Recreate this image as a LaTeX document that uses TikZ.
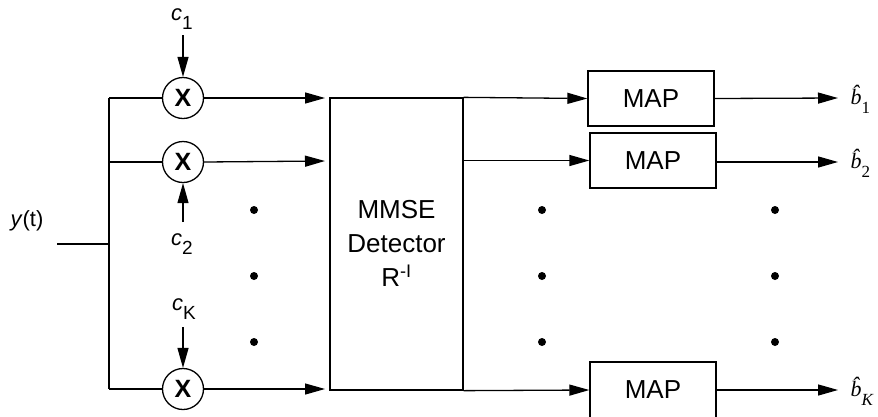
\documentclass[tikz,border=0pt]{standalone}
\usepackage{fontspec}
\setmainfont{Liberation Sans}
\newfontfamily\serfont{Liberation Serif}
\usetikzlibrary{arrows.meta}
\newcommand\labsub[2]{\textit{#1}\raisebox{-0.42em}{\fontsize{19}{19}\selectfont #2}}
\newcommand\bhatsub[1]{{\serfont\itshape\^{b}\raisebox{-0.4em}{\fontsize{17}{17}\selectfont #1}}}
\begin{document}
\begin{tikzpicture}[x=1pt,y=-1pt,
  line width=1.3pt,
  arr/.style={-{Triangle[length=20pt,width=11pt]}},
  mult/.style={circle,draw,minimum size=41pt,inner sep=0pt,font=\fontsize{25}{25}\selectfont\bfseries},
  mapbox/.style={draw,minimum width=126pt,minimum height=55pt,inner sep=0pt,font=\fontsize{26}{26}\selectfont},
  lab/.style={inner sep=0pt,font=\fontsize{22}{22}\selectfont},
  dotm/.style={circle,fill,minimum size=8pt,inner sep=0pt}]
\useasboundingbox (0,0) rectangle (878,416);
% input
\node[lab] (yt) at (27,221) {\textit{y}(t)};
\coordinate (in) at (57,244);
\coordinate (bj) at (109,244);
\coordinate (bt) at (109,98);
\coordinate (bb) at (109,389);
\draw (in) -- (bj);
\draw (bt) -- (bb);
% multipliers
\node[mult] (m1) at (183,98) {X};
\node[mult] (m2) at (183,162) {X};
\node[mult] (mK) at (183,389) {X};
\draw (bt) -- (m1.west);
\draw (bt |- m2.west) -- (m2.west);
\draw (bb) -- (mK.west);
% codes
\node[lab] (c1) at (182,19) {\labsub{c}{1}};
\node[lab] (c2) at (182,244) {\labsub{c}{2}};
\node[lab] (cK) at (184,309) {\labsub{c}{K}};
\coordinate (c1a) at (183,35);
\coordinate (c2a) at (183,222);
\coordinate (cKa) at (183,327);
\draw[arr] (c1a) -- (m1.north);
\draw[arr] (c2a) -- (m2.south);
\draw[arr] (cKa) -- (mK.north);
% dots left
\node[dotm] (dl1) at (254,210) {};
\node[dotm] (dl2) at (254,276) {};
\node[dotm] (dl3) at (254,342) {};
% MMSE detector
\node[draw,minimum width=133pt,minimum height=292pt,inner sep=0pt] (det) at (396.5,244) {};
\node[align=center,inner sep=0pt,font=\fontsize{26}{34}\selectfont] (dett) at (396.5,243) {MMSE\\Detector\\R\textsuperscript{-I}};
\coordinate (e1) at (325,98);
\coordinate (e2) at (325,161);
\coordinate (eK) at (325,389);
\draw[arr] (m1.east) -- (e1);
\draw[arr] (m2.east) -- (e2);
\draw[arr] (mK.east) -- (eK);
% MAP boxes
\node[mapbox] (map1) at (651,98.5) {MAP};
\node[mapbox] (map2) at (653,160.5) {MAP};
\node[mapbox,minimum height=56pt] (mapK) at (653,390) {MAP};
\draw[arr] (det.north east) -- (map1.west);
\draw[arr] (det.east |- map2.west) -- (map2.west);
\draw[arr] (det.south east) -- (mapK.west);
% dots middle and right
\node[dotm] (dm1) at (542,210) {};
\node[dotm] (dm2) at (542,276) {};
\node[dotm] (dm3) at (542,342) {};
\node[dotm] (dr1) at (775,210) {};
\node[dotm] (dr2) at (775,276) {};
\node[dotm] (dr3) at (775,342) {};
% outputs
\coordinate (o1) at (838,98);
\coordinate (o2) at (838,162);
\coordinate (oK) at (838,390);
\draw[arr] (map1.east) -- (o1);
\draw[arr] (map2.east |- o2) -- (o2);
\draw[arr] (mapK.east |- oK) -- (oK);
\node[lab,anchor=west] (b1) at (850,99) {\bhatsub{\upshape 1}};
\node[lab,anchor=west] (b2) at (850,163) {\bhatsub{\upshape 2}};
\node[lab,anchor=west] (bK) at (850,391) {\bhatsub{K}};
\end{tikzpicture}
\end{document}
